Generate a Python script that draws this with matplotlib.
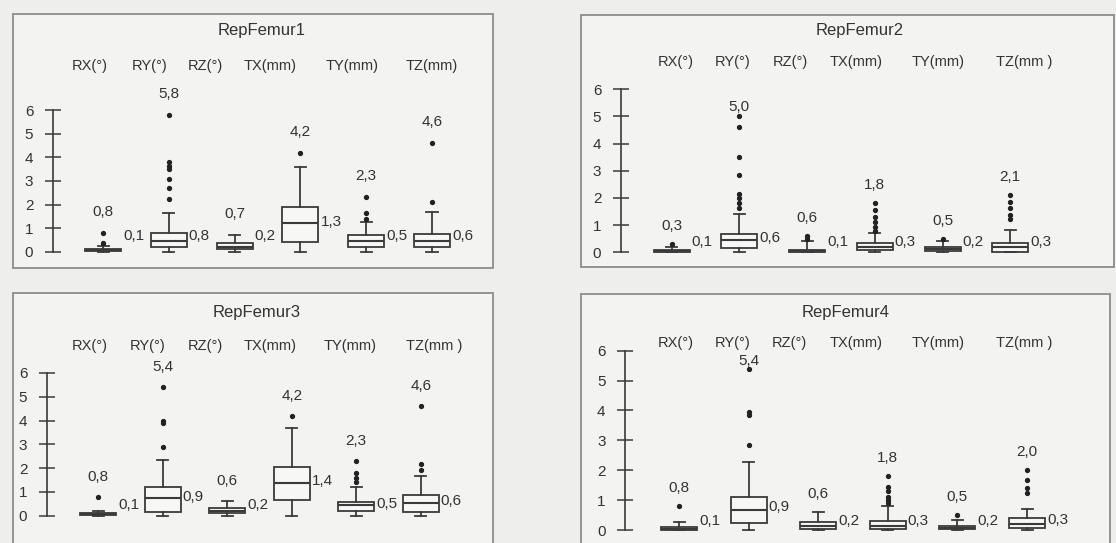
import matplotlib
matplotlib.use("Agg")
import matplotlib.pyplot as plt
from matplotlib.patches import Rectangle

plt.rcParams['font.family'] = ['Liberation Sans', 'DejaVu Sans']

# ---------------- data ----------------
headers_p1 = ["RX(°)", "RY(°)", "RZ(°)", "TX(mm)", "TY(mm)", "TZ(mm)"]
headers_p234 = ["RX(°)", "RY(°)", "RZ(°)", "TX(mm)", "TY(mm)", "TZ(mm )"]
titles = ["RepFemur1", "RepFemur2", "RepFemur3", "RepFemur4"]

# RepFemur1
p1_q1 = [0.02, 0.21, 0.12, 0.42, 0.21, 0.21]
p1_med = [0.06, 0.45, 0.22, 1.23, 0.45, 0.45]
p1_q3 = [0.12, 0.78, 0.36, 1.90, 0.71, 0.75]
p1_lo = [0.0, 0.0, 0.0, 0.0, 0.0, 0.0]
p1_hi = [0.25, 1.63, 0.70, 3.60, 1.27, 1.70]
p1_out = [[0.35, 0.8], [2.25, 2.7, 3.1, 3.5, 3.65, 3.8, 5.8], [], [4.2],
          [1.4, 1.65, 2.3], [2.12, 4.6]]
p1_side = [0.1, 0.8, 0.2, 1.3, 0.5, 0.6]

# RepFemur2
p2_q1 = [0.01, 0.15, 0.01, 0.08, 0.06, 0.02]
p2_med = [0.04, 0.45, 0.05, 0.20, 0.12, 0.20]
p2_q3 = [0.09, 0.67, 0.10, 0.35, 0.20, 0.35]
p2_lo = [0.0, 0.0, 0.0, 0.0, 0.0, 0.0]
p2_hi = [0.18, 1.40, 0.40, 0.70, 0.40, 0.82]
p2_out = [[0.3], [1.62, 1.8, 1.98, 2.16, 2.86, 3.49, 4.62, 5.0],
          [0.5, 0.6], [0.8, 0.94, 1.12, 1.3, 1.55, 1.8], [0.5],
          [1.22, 1.37, 1.62, 1.86, 2.1]]
p2_side = [0.1, 0.6, 0.1, 0.3, 0.2, 0.3]

# RepFemur3
p3_q1 = [0.02, 0.17, 0.10, 0.66, 0.21, 0.17]
p3_med = [0.06, 0.73, 0.20, 1.39, 0.45, 0.52]
p3_q3 = [0.12, 1.22, 0.31, 2.03, 0.59, 0.87]
p3_lo = [0.0, 0.0, 0.0, 0.0, 0.0, 0.0]
p3_hi = [0.20, 2.34, 0.60, 3.67, 1.22, 1.67]
p3_out = [[0.8], [2.87, 3.88, 3.99, 5.4], [], [4.2],
          [1.4, 1.57, 1.78, 2.3], [1.92, 2.16, 4.6]]
p3_side = [0.1, 0.9, 0.2, 1.4, 0.5, 0.6]

# RepFemur4
p4_q1 = [0.01, 0.22, 0.03, 0.05, 0.02, 0.06]
p4_med = [0.05, 0.67, 0.15, 0.15, 0.07, 0.20]
p4_q3 = [0.10, 1.11, 0.28, 0.30, 0.12, 0.41]
p4_lo = [0.0, 0.0, 0.0, 0.0, 0.0, 0.0]
p4_hi = [0.28, 2.28, 0.60, 0.80, 0.35, 0.69]
p4_out = [[0.8], [2.84, 3.85, 3.96, 5.4], [], [0.9, 1.0, 1.1, 1.3, 1.45, 1.8],
          [0.5], [1.23, 1.39, 1.67, 2.0]]
p4_side = [0.1, 0.9, 0.2, 0.3, 0.2, 0.3]

panels_data = [
    (p1_q1, p1_med, p1_q3, p1_lo, p1_hi, p1_out, p1_side, headers_p1),
    (p2_q1, p2_med, p2_q3, p2_lo, p2_hi, p2_out, p2_side, headers_p234),
    (p3_q1, p3_med, p3_q3, p3_lo, p3_hi, p3_out, p3_side, headers_p234),
    (p4_q1, p4_med, p4_q3, p4_lo, p4_hi, p4_out, p4_side, headers_p234),
]

# ---------------- layout (pixels) ----------------
W, H = 1116, 543
layouts = [
    dict(frame=(13, 14, 493, 268), title=(262, 30), head_y=66,
         head_x=[90, 150, 205, 270, 352, 432],
         spine=52.7, first=103, sp=65.8, y0=251.7, ppu=23.6,
         top_off=21, cap=7.0, side_min=0.65),
    dict(frame=(581, 15, 1114, 267), title=(860, 30), head_y=62,
         head_x=[676, 733, 790, 856, 938, 1024],
         spine=620.7, first=671.7, sp=67.7, y0=252.3, ppu=27.2,
         top_off=18, cap=5.35, side_min=0.37),
    dict(frame=(13, 293, 493, 560), title=(257, 312), head_y=346,
         head_x=[90, 148, 205, 270, 350, 434],
         spine=46.7, first=98.3, sp=64.5, y0=515.7, ppu=23.8,
         top_off=20, cap=7.0, side_min=0.45),
    dict(frame=(581, 294, 1110, 560), title=(846, 313), head_y=343,
         head_x=[676, 733, 789, 856, 938, 1024],
         spine=625, first=679, sp=69.6, y0=530, ppu=29.9,
         top_off=18, cap=5.65, side_min=0.3),
]

TXT = '#333333'
LINE = '#3a3a3a'

fig = plt.figure(figsize=(W / 100, H / 100), dpi=100)
fig.patch.set_facecolor('#eeeeec')


def fx(x):
    return x / W


def fy(y):
    return 1 - y / H


for (q1, med, q3, lo, hi, out, side, heads), L, title in zip(panels_data, layouts, titles):
    x0, y0f, x1, y1f = L['frame']
    fig.add_artist(Rectangle((fx(x0), fy(y1f)), fx(x1) - fx(x0), fy(y0f) - fy(y1f),
                             transform=fig.transFigure, facecolor='#f3f3f1',
                             edgecolor='#8c8c8c', linewidth=1.3, zorder=0))
    fig.text(fx(L['title'][0]), fy(L['title'][1]), title, ha='center', va='center',
             fontsize=12, color=TXT)
    for hx, h in zip(L['head_x'], heads):
        fig.text(fx(hx), fy(L['head_y']), h, ha='center', va='center',
                 fontsize=10.5, color=TXT)

    sp = L['sp']
    xl = 1 - (L['first'] - L['spine']) / sp
    xr = 6.75
    yb, yt = -0.4, 7.3
    left_px = L['spine']
    right_px = L['first'] + (xr - 1) * sp
    bot_px = L['y0'] - yb * L['ppu']
    top_px = L['y0'] - yt * L['ppu']
    ax = fig.add_axes([fx(left_px), fy(bot_px), fx(right_px) - fx(left_px),
                       fy(top_px) - fy(bot_px)])
    ax.patch.set_visible(False)

    stats = []
    for i in range(6):
        stats.append(dict(med=med[i], q1=q1[i], q3=q3[i], whislo=lo[i],
                          whishi=hi[i], fliers=out[i]))
    bw = 36 / sp
    ax.bxp(stats, positions=range(1, 7), widths=bw, capwidths=11 / sp,
           patch_artist=True, showfliers=True, manage_ticks=False,
           boxprops=dict(facecolor='#f7f7f5', edgecolor=LINE, linewidth=1.3),
           medianprops=dict(color=LINE, linewidth=1.5),
           whiskerprops=dict(color=LINE, linewidth=1.3),
           capprops=dict(color=LINE, linewidth=1.3),
           flierprops=dict(marker='o', markersize=2.8, markerfacecolor='#222222',
                           markeredgecolor='#222222', linestyle='none'))

    ax.set_xlim(xl, xr)
    ax.set_ylim(yb, yt)
    for s in ['top', 'right', 'bottom']:
        ax.spines[s].set_visible(False)
    ax.spines['left'].set_bounds(0, 6)
    ax.spines['left'].set_color(LINE)
    ax.spines['left'].set_linewidth(1.2)
    ax.set_xticks([])
    ax.set_yticks(range(7))
    ax.tick_params(axis='y', direction='inout', length=12, width=1.1, color=LINE,
                   labelsize=11, labelcolor=TXT, pad=8)

    for i in range(6):
        pos = i + 1
        vmax = max([hi[i]] + list(out[i]))
        ytxt = min(vmax + L['top_off'] / L['ppu'], L['cap'])
        ax.text(pos, ytxt, f"{vmax:.1f}".replace('.', ','), ha='center',
                va='center', fontsize=11, color=TXT, clip_on=False)
        ys = max(L['side_min'], (q1[i] + q3[i]) / 2 + 0.1)
        ax.text(pos + bw / 2 + 2 / sp, ys, f"{side[i]:.1f}".replace('.', ','),
                ha='left', va='center', fontsize=11, color=TXT, clip_on=False)

fig.savefig('out.png', dpi=100, facecolor=fig.get_facecolor())
